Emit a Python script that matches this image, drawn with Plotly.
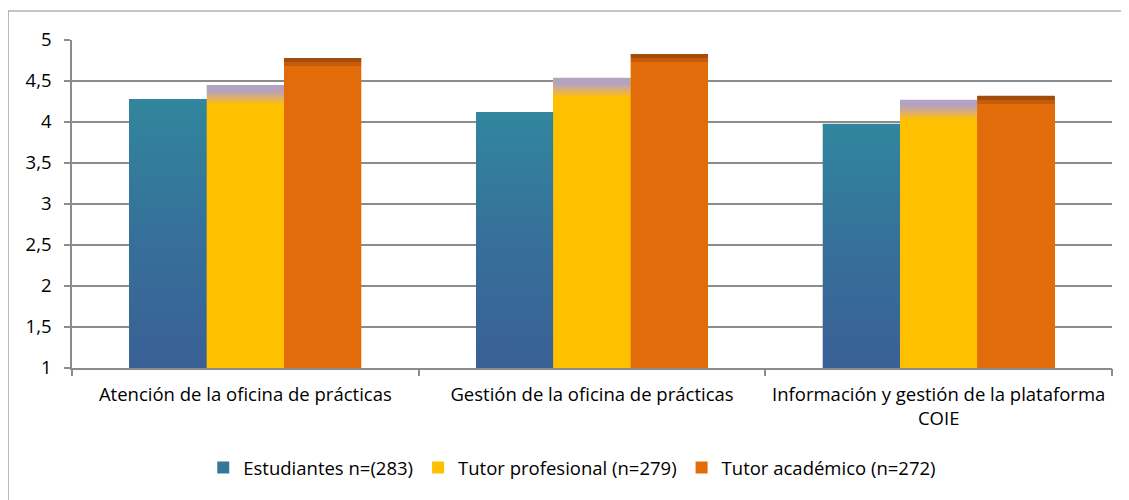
import plotly.graph_objects as go

categories = ["Atención de la oficina de prácticas",
              "Gestión de la oficina de prácticas",
              "Información y gestión de la plataforma<br>COIE"]
series_names = ["Estudiantes n=(283)", "Tutor profesional (n=279)", "Tutor académico (n=272)"]
estudiantes = [4.28, 4.12, 3.98]
tutor_profesional = [4.45, 4.54, 4.27]
tutor_academico = [4.78, 4.83, 4.32]
y_ticks = [1, 1.5, 2, 2.5, 3, 3.5, 4, 4.5, 5]

series_values = [estudiantes, tutor_profesional, tutor_academico]
legend_colors = ["#34779B", "#FFC000", "#E36C09"]

W = 0.223
BASE = 1.0
FS = 18.5


def gradient_scale(k, v):
    h = v - BASE
    if k == 0:
        return [[0, "#3A6095"], [0.5, "#36709A"], [1, "#31869D"]]
    if k == 1:
        f = max(0.0, 1 - 0.24 / h)
        g = max(0.0, 1 - 0.07 / h)
        return [[0, "#FFC000"], [f, "#FFC000"], [(f + g) / 2, "#DDB070"], [g, "#B5A2BE"], [1, "#B3A2C3"]]
    f = max(0.0, 1 - 0.10 / h)
    g = max(0.0, 1 - 0.05 / h)
    return [[0, "#E36C0A"], [f, "#E36C0A"], [f + 1e-4, "#C75B0C"], [g, "#C75B0C"], [g + 1e-4, "#A34C09"], [1, "#A34C09"]]


fig = go.Figure()
for k, (name, vals) in enumerate(zip(series_names, series_values)):
    xs = [i + (k - 1) * W for i in range(len(categories))]
    fig.add_trace(go.Bar(x=xs, y=[v - BASE for v in vals], base=BASE, width=W,
                         name=name, marker=dict(color=legend_colors[k], line=dict(width=0)),
                         showlegend=True, hovertemplate="%{customdata}<extra>" + name + "</extra>",
                         customdata=vals))
    for i, v in enumerate(vals):
        x0 = xs[i] - W / 2
        x1 = xs[i] + W / 2
        fig.add_trace(go.Scatter(x=[x0, x1, x1, x0, x0], y=[BASE, BASE, v, v, BASE],
                                 mode="none", fill="toself",
                                 fillgradient=dict(type="vertical", colorscale=gradient_scale(k, v),
                                                   start=BASE, stop=v),
                                 showlegend=False, hoverinfo="skip"))

# page body has an 8px default margin, so the figure is 8px smaller and margins offset by 8
fig.update_layout(
    width=1121, height=492,
    margin=dict(l=64, r=17, t=32, b=132, autoexpand=False),
    paper_bgcolor="white", plot_bgcolor="white",
    separators=",.",
    font=dict(family="Open Sans, sans-serif", size=FS, color="#000000"),
    barmode="overlay", bargap=0,
    showlegend=True,
    legend=dict(orientation="h", x=0.481, xanchor="center", y=-0.305, yanchor="middle",
                font=dict(size=FS), itemwidth=30, traceorder="normal",
                itemsizing="constant", tracegroupgap=0),
    shapes=[dict(type="rect", xref="paper", yref="paper",
                 x0=-64 / 1040, x1=1130 / 1040, y0=-140 / 328, y1=1 + 29 / 328,
                 line=dict(color="#8C8C8C", width=1.2), fillcolor="rgba(0,0,0,0)", layer="below")],
)

fig.update_xaxes(range=[-0.5, 2.5], tickvals=[0, 1, 2], ticktext=categories,
                 showgrid=False, zeroline=False, showline=True, linecolor="#8C8C8C",
                 linewidth=1.5, ticks="", tickfont=dict(size=FS), fixedrange=True,
                 automargin=False, ticklabelstandoff=9)
fig.update_layout(xaxis2=dict(overlaying="x", range=[-0.5, 2.5], tickvals=[-0.5, 0.5, 1.5, 2.5],
                              showticklabels=False, ticks="outside", ticklen=7, tickwidth=1.5,
                              tickcolor="#8C8C8C", showgrid=False, zeroline=False,
                              side="bottom", anchor="y", showline=False, automargin=False,
                              fixedrange=True))
fig.add_trace(go.Scatter(x=[0], y=[BASE], xaxis="x2", mode="none", showlegend=False, hoverinfo="skip"))

fig.update_yaxes(range=[1, 5], tickvals=y_ticks, showgrid=True, gridcolor="#8C8C8C", gridwidth=1.5,
                 zeroline=False, showline=True, linecolor="#8C8C8C", linewidth=1.5,
                 ticks="outside", ticklen=6, tickcolor="#8C8C8C", tickwidth=1.5,
                 tickfont=dict(size=FS), fixedrange=True, automargin=False, ticklabelstandoff=9)

fig.write_html("out.html")
